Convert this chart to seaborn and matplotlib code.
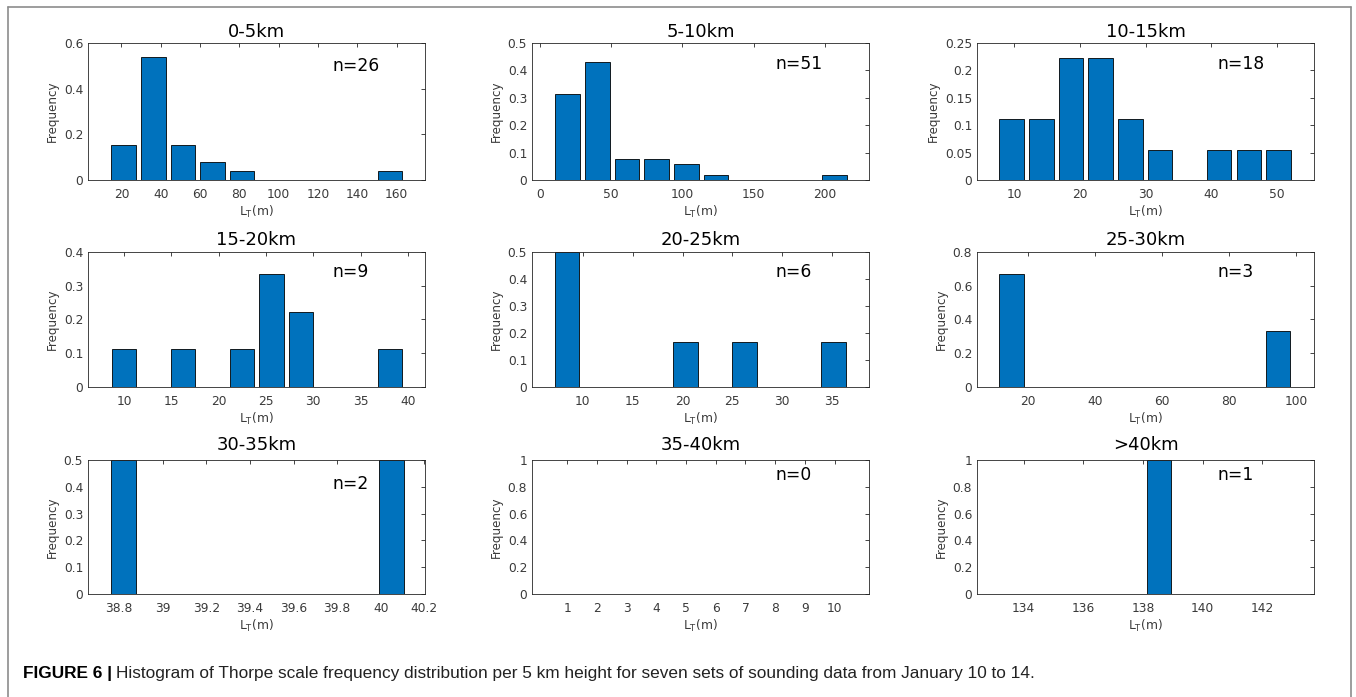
import numpy as np
import pandas as pd
import matplotlib
matplotlib.use("Agg")
import matplotlib.pyplot as plt
import seaborn as sns
from matplotlib.ticker import FuncFormatter

# ---------------- data ----------------
titles = ["0-5km", "5-10km", "10-15km", "15-20km", "20-25km",
          "25-30km", "30-35km", "35-40km", ">40km"]

# bin centres of L_T (m) that hold observations, and the counts in them
lt_0_5 = [21.2, 36.25, 51.3, 66.35, 81.4, 156.65]
cnt_0_5 = [4, 14, 4, 2, 1, 1]
lt_5_10 = [19.7, 40.5, 61.3, 82.1, 102.9, 123.7, 206.9]
cnt_5_10 = [16, 22, 4, 4, 3, 1, 1]
lt_10_15 = [9.6, 14.12, 18.64, 23.16, 27.68, 32.2, 41.24, 45.76, 50.28]
cnt_10_15 = [2, 2, 4, 4, 2, 1, 1, 1, 1]
lt_15_20 = [10.0, 16.24, 22.48, 25.6, 28.72, 38.08]
cnt_15_20 = [1, 1, 1, 3, 2, 1]
lt_20_25 = [8.4, 20.28, 26.22, 35.13]
cnt_20_25 = [3, 1, 1, 1]
lt_25_30 = [15.0, 94.6]
cnt_25_30 = [2, 1]
lt_30_35 = [38.82, 40.05]
cnt_30_35 = [1, 1]
lt_35_40 = []
cnt_35_40 = []
lt_40 = [138.54]
cnt_40 = [1]

centers = [lt_0_5, lt_5_10, lt_10_15, lt_15_20, lt_20_25, lt_25_30, lt_30_35, lt_35_40, lt_40]
counts = [cnt_0_5, cnt_5_10, cnt_10_15, cnt_15_20, cnt_20_25, cnt_25_30, cnt_30_35, cnt_35_40, cnt_40]
bin_widths = [15.05, 20.8, 4.52, 3.12, 2.97, 8.84, 0.14, 1.0, 1.0]

xlims = [(3, 174.5), (-5.4, 231), (4.3, 55.7), (6.2, 41.8), (4.9, 38.7),
         (4.8, 105.3), (38.657, 40.203), (-0.19, 11.16), (132.43, 143.74)]
xticks = [np.arange(20, 161, 20), np.arange(0, 201, 50), np.arange(10, 51, 10),
          np.arange(10, 41, 5), np.arange(10, 36, 5), np.arange(20, 101, 20),
          np.round(np.arange(38.8, 40.21, 0.2), 1), np.arange(1, 11, 1),
          np.arange(134, 143, 2)]
ymax = [0.6, 0.5, 0.25, 0.4, 0.5, 0.8, 0.5, 1.0, 1.0]
ystep = [0.2, 0.1, 0.05, 0.1, 0.1, 0.2, 0.1, 0.2, 0.2]

# ---------------- layout (pixels of a 1356x697 canvas) ----------------
W, H = 1356, 697
col_left = [88, 532, 977]
ax_w = 337
rows = [(43, 180), (252, 387), (460, 594)]
title_pad = [4.5, 5.0, 7.0]
n_pos_y = [0.83, 0.85, 0.85, 0.855, 0.855, 0.855, 0.82, 0.885, 0.885]
n_pos_x = [0.727, 0.723, 0.715] * 3

sns.set_theme(style="white")
plt.rcParams["font.family"] = ["DejaVu Sans"]
ink = "#262626"
tick_ink = "#3a3a3a"
blue = "#0072BD"

fig = plt.figure(figsize=(W / 100, H / 100), dpi=100)
fmt = FuncFormatter(lambda v, p: f"{v:g}")

for i in range(9):
    r, c = divmod(i, 3)
    top, bot = rows[r]
    ax = fig.add_axes([col_left[c] / W, 1 - bot / H, ax_w / W, (bot - top) / H])
    cen = np.asarray(centers[i], dtype=float)
    if len(cen):
        w = bin_widths[i]
        edges = np.unique(np.round(np.concatenate([cen - w / 2, cen + w / 2]), 6)).tolist()
        df = pd.DataFrame({"LT": cen, "count": np.asarray(counts[i], dtype=float)})
        sns.histplot(data=df, x="LT", weights="count", bins=edges, stat="probability",
                     shrink=0.83, color=blue, edgecolor="black", linewidth=0.6,
                     alpha=1, ax=ax)
        for p in list(ax.patches):
            if p.get_height() == 0:
                p.remove()
    ax.set_xlim(*xlims[i])
    ax.set_ylim(0, ymax[i])
    ax.set_xticks(xticks[i])
    ax.set_yticks(np.round(np.arange(0, ymax[i] + 1e-9, ystep[i]), 3))
    ax.xaxis.set_major_formatter(fmt)
    ax.yaxis.set_major_formatter(fmt)
    ax.tick_params(direction="in", top=True, right=True, length=3, width=0.6,
                   color=ink, labelcolor=tick_ink, labelsize=8.8)
    ax.tick_params(axis="x", pad=5.5)
    ax.tick_params(axis="y", pad=3.5)
    for s in ax.spines.values():
        s.set_visible(True)
        s.set_color(ink)
        s.set_linewidth(0.6)
    ax.set_ylabel("Frequency", fontsize=8.6, color=tick_ink, labelpad=3.5)
    ax.set_xlabel(r"L$_\mathregular{T}$(m)", fontsize=8.8, color=tick_ink, labelpad=2.5)
    ax.set_title(titles[i], fontsize=13, color="black", pad=title_pad[r])
    n = int(np.sum(counts[i])) if len(counts[i]) else 0
    ax.text(n_pos_x[i], n_pos_y[i], f"n={n}", transform=ax.transAxes,
            fontsize=12.3, ha="left", va="center", color="black")
    ax.grid(False)

# outer frame (open at the bottom)
frame_col = "#8c8c8c"
x0, x1, y0 = 8 / W, 1351 / W, 1 - 7 / H
fig.add_artist(plt.Line2D([x0, x1], [y0, y0], transform=fig.transFigure, color=frame_col, lw=1.2))
fig.add_artist(plt.Line2D([x0, x0], [y0, 0], transform=fig.transFigure, color=frame_col, lw=1.2))
fig.add_artist(plt.Line2D([x1, x1], [y0, 0], transform=fig.transFigure, color=frame_col, lw=1.2))

# caption
cap_font = ["Liberation Sans", "DejaVu Sans"]
t1 = fig.text(23 / W, 1 - 678 / H, "FIGURE 6 |", fontsize=12.4, fontweight="bold",
              family=cap_font, va="baseline", ha="left", color="black")
fig.axes[0].annotate("Histogram of Thorpe scale frequency distribution per 5 km height for seven "
                     "sets of sounding data from January 10 to 14.",
                     xy=(1, 0), xycoords=t1, xytext=(3, 0), textcoords="offset points",
                     fontsize=12.4, family=cap_font, va="bottom", ha="left",
                     color="#222222", annotation_clip=False)

fig.savefig("out.png", dpi=100, facecolor="white")
